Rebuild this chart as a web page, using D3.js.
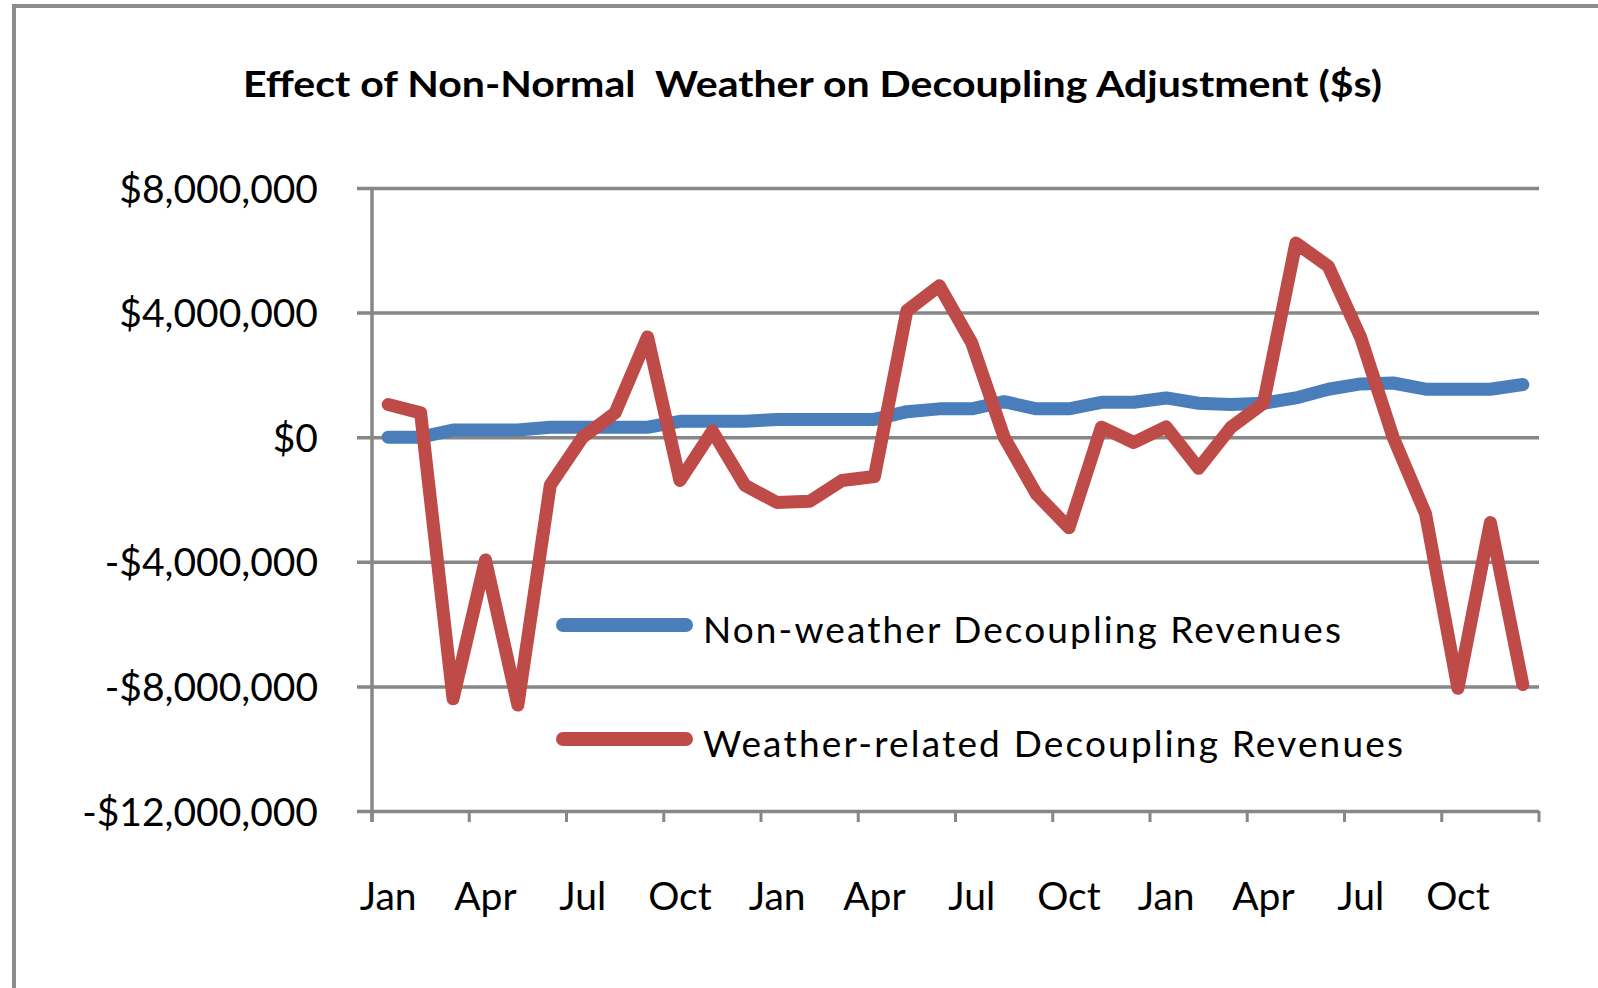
<!DOCTYPE html>
<html>
<head>
<meta charset="utf-8">
<script src="https://cdn.jsdelivr.net/npm/d3@7"></script>
<style>
  body { margin: 0; background: #fff; }
  svg { display: block; font-family: Lato, "Open Sans", sans-serif; }
</style>
</head>
<body>
<svg id="chart" width="1598" height="988"></svg>
<script>
// 36 months, three years
const months = ["Jan","Feb","Mar","Apr","May","Jun","Jul","Aug","Sep","Oct","Nov","Dec",
                "Jan","Feb","Mar","Apr","May","Jun","Jul","Aug","Sep","Oct","Nov","Dec",
                "Jan","Feb","Mar","Apr","May","Jun","Jul","Aug","Sep","Oct","Nov","Dec"];

// Non-weather decoupling revenues ($)
const nonWeather = [0, 0, 230000, 230000, 230000, 320000, 320000, 320000, 320000, 510000, 510000, 510000,
                    570000, 570000, 570000, 570000, 820000, 910000, 910000, 1140000, 910000, 910000, 1120000, 1120000,
                    1260000, 1090000, 1050000, 1090000, 1260000, 1540000, 1710000, 1740000, 1540000, 1540000, 1540000, 1690000];

// Weather-related decoupling revenues ($)
const weather = [1050000, 780000, -8400000, -3940000, -8600000, -1540000, 0, 780000, 3220000, -1390000, 200000, -1540000,
                 -2100000, -2060000, -1390000, -1260000, 4060000, 4860000, 3030000, 0, -1830000, -2910000, 320000, -170000,
                 330000, -1000000, 320000, 1090000, 6230000, 5490000, 3200000, 0, -2460000, -8060000, -2740000, -7940000];

const yTicks = [8000000, 4000000, 0, -4000000, -8000000, -12000000];
const seriesNames = ["Non-weather Decoupling Revenues", "Weather-related Decoupling Revenues"];
const colors = ["#4A7EBB", "#BE4B48"];

const svg = d3.select("#chart");
const grid = "#878787";

// outer chart frame (only left and top edges visible)
svg.append("path")
  .attr("d", "M14,988 L14,6 L1598,6")
  .attr("fill", "none")
  .attr("stroke", "#8c8c8c")
  .attr("stroke-width", 4);

const plot = { left: 372, right: 1539, top: 188, bottom: 811 };

const x = d3.scaleBand()
  .domain(d3.range(months.length))
  .range([plot.left, plot.right])
  .padding(0);

const y = d3.scaleLinear()
  .domain([-12000000, 8000000])
  .range([plot.bottom, plot.top]);

const fmt = d3.format(",");
const money = d => (d < 0 ? "-$" : "$") + fmt(Math.abs(d));

// title
svg.append("text")
  .attr("x", 243)
  .attr("y", 97)
  .attr("font-size", 37)
  .attr("font-weight", "bold")
  .attr("textLength", 1139)
  .attr("lengthAdjust", "spacingAndGlyphs")
  .attr("xml:space", "preserve")
  .text("Effect of Non-Normal  Weather on Decoupling Adjustment ($s)");

// horizontal gridlines with short ticks to the left of the axis
const yAxis = d3.axisLeft(y)
  .tickValues(yTicks)
  .tickSize(-(plot.right - plot.left))
  .tickPadding(0)
  .tickFormat(money);

const yg = svg.append("g")
  .attr("transform", `translate(${plot.left},0)`)
  .call(yAxis)
  .attr("font-family", null)
  .attr("font-size", null);
yg.select(".domain").remove();
yg.selectAll(".tick line")
  .attr("x1", -15)
  .attr("stroke", grid)
  .attr("stroke-width", 3.5);
yg.selectAll(".tick text")
  .attr("x", -54)
  .attr("dy", "0.36em")
  .attr("font-size", 39)
  .attr("fill", "#000");

// vertical axis line
svg.append("line")
  .attr("x1", plot.left).attr("x2", plot.left)
  .attr("y1", plot.top).attr("y2", plot.bottom + 11)
  .attr("stroke", grid)
  .attr("stroke-width", 3.5);

// category boundary ticks below the bottom axis
const bounds = d3.range(0, months.length + 1, 3).map(i => i < months.length ? x(i) : plot.right);
svg.append("g")
  .selectAll("line")
  .data(bounds)
  .join("line")
  .attr("x1", d => d).attr("x2", d => d)
  .attr("y1", plot.bottom).attr("y2", plot.bottom + 11)
  .attr("stroke", grid)
  .attr("stroke-width", 3);

// month labels, every third month
svg.append("g")
  .selectAll("text")
  .data(months.map((m, i) => ({ m, i })).filter(d => d.i % 3 === 0))
  .join("text")
  .attr("x", d => x(d.i) + x.bandwidth() / 2)
  .attr("y", 910)
  .attr("text-anchor", "middle")
  .attr("font-size", 39)
  .text(d => d.m);

// series lines
const line = d3.line()
  .x((d, i) => x(i) + x.bandwidth() / 2)
  .y(d => y(d));

[nonWeather, weather].forEach((series, k) => {
  svg.append("path")
    .datum(series)
    .attr("d", line)
    .attr("fill", "none")
    .attr("stroke", colors[k])
    .attr("stroke-width", 13)
    .attr("stroke-linecap", "round")
    .attr("stroke-linejoin", "round");
});

// legend
const legendY = [625, 739];
const legendW = [638, 700];
seriesNames.forEach((name, k) => {
  svg.append("line")
    .attr("x1", 563).attr("x2", 686)
    .attr("y1", legendY[k]).attr("y2", legendY[k])
    .attr("stroke", colors[k])
    .attr("stroke-width", 14)
    .attr("stroke-linecap", "round");
  svg.append("text")
    .attr("x", 703)
    .attr("y", legendY[k] + 18)
    .attr("font-size", 37)
    .attr("textLength", legendW[k])
    .attr("lengthAdjust", "spacing")
    .text(name);
});
</script>
</body>
</html>
